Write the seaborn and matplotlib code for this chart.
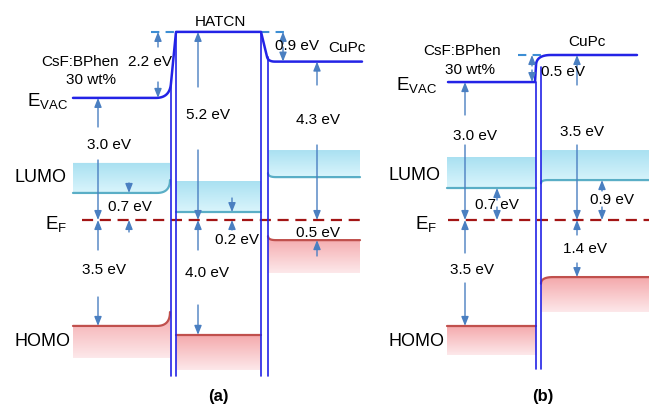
import numpy as np
import matplotlib
matplotlib.use("Agg")
import matplotlib.pyplot as plt
from matplotlib.colors import LinearSegmentedColormap
import seaborn as sns

# schematic energy levels (eV, relative to E_F = 0)
layers_a = ["CsF:BPhen", "HATCN", "CuPc"]
vac_a = [3.7, 5.7, 4.8]
lumo_a = [0.82, 0.24, 1.30]
lumo_top_a = [1.73, 1.18, 2.12]
homo_a = [-3.21, -3.48, -0.61]
homo_bot_a = [-4.18, -4.55, -1.61]

layers_b = ["CsF:BPhen", "CuPc"]
vac_b = [4.18, 5.0]
lumo_b = [0.97, 1.21]
lumo_top_b = [1.91, 2.12]
homo_b = [-3.21, -1.73]
homo_bot_b = [-4.09, -2.79]

# labels of the gaps
gaps_a = ["2.2 eV", "0.9 eV", "5.2 eV", "4.3 eV", "3.0 eV", "0.7 eV", "0.2 eV", "0.5 eV", "3.5 eV", "4.0 eV"]
gaps_b = ["0.5 eV", "3.0 eV", "3.5 eV", "0.7 eV", "0.9 eV", "1.4 eV", "3.5 eV"]

PX = 33.0
EF_PY = 220.0
def ev(py):
    # picture row -> energy scale
    return (EF_PY - py) / PX

sns.set_theme(style="white")
plt.rcParams['font.family'] = ['Liberation Sans', 'DejaVu Sans']
plt.rcParams['mathtext.fontset'] = 'custom'
plt.rcParams['mathtext.rm'] = 'Liberation Sans'

fig = plt.figure(figsize=(6.49, 4.07), dpi=100)
ax = fig.add_axes([0, 0, 1, 1])
ax.set_xlim(0, 649)
ax.set_ylim(ev(407), ev(0))
ax.set_axis_off()

BLUE = "#2323e6"
ARROW = "#4a7fc1"
lumo_cmap = LinearSegmentedColormap.from_list("lumo", ["#a8e0f1", "#daf5fc"])
homo_cmap = LinearSegmentedColormap.from_list("homo", ["#fde8ea", "#f4a8ab"])

def bez(p0, c, p1, n=15):
    t = np.linspace(0, 1, n)[:, None]
    pts = (1 - t) ** 2 * np.array(p0) + 2 * t * (1 - t) * np.array(c) + t ** 2 * np.array(p1)
    return pts[:, 0], pts[:, 1]

def band(xs, edge, other, cmap, edge_color):
    lo = np.minimum(edge, other)
    hi = np.maximum(edge, other)
    poly = ax.fill_between(xs, lo, hi, facecolor="none", edgecolor="none")
    grad = np.linspace(0, 1, 100).reshape(-1, 1)
    im = ax.imshow(grad, extent=[xs.min(), xs.max(), lo.min(), hi.max()], origin="lower",
                   cmap=cmap, aspect="auto", zorder=1)
    im.set_clip_path(poly.get_paths()[0], transform=ax.transData)
    ax.plot(xs, edge, color=edge_color, lw=1.6, zorder=2)

def flat_then_up(x0, x1, y, rise, xb):
    # level ending with a band bend close to the interface
    bx, by = bez((xb, y), (x1, y), (x1, y + rise))
    return np.r_[x0, bx], np.r_[y, by]

def down_then_flat(x0, x1, y, drop, xb):
    bx, by = bez((x0, y + drop), (x0, y), (xb, y))
    return np.r_[bx, x1], np.r_[by, y]

LUMO_EDGE = "#5aaec6"
HOMO_EDGE = "#c0504d"

# ---------- panel (a) ----------
x, e = flat_then_up(73, 170, lumo_a[0], 0.39, 157)
band(x, e, np.full_like(e, lumo_top_a[0]), lumo_cmap.reversed(), LUMO_EDGE)
x, e = flat_then_up(73, 170, homo_a[0], 0.42, 157)
band(x, e, np.full_like(e, homo_bot_a[0]), homo_cmap, HOMO_EDGE)
x = np.array([176.0, 261.0])
band(x, np.full(2, lumo_a[1]), np.full(2, lumo_top_a[1]), lumo_cmap.reversed(), LUMO_EDGE)
band(x, np.full(2, homo_a[1]), np.full(2, homo_bot_a[1]), homo_cmap, HOMO_EDGE)
x, e = down_then_flat(268, 360, lumo_a[2], 0.12, 276)
band(x, e, np.full_like(e, lumo_top_a[2]), lumo_cmap.reversed(), LUMO_EDGE)
x, e = down_then_flat(268, 360, homo_a[2], 0.12, 276)
band(x, e, np.full_like(e, homo_bot_a[2]), homo_cmap, HOMO_EDGE)

# vacuum level (a)
bx1, by1 = bez((156, vac_a[0]), (170, vac_a[0]), (171, vac_a[0] + 0.45))
bx2, by2 = bez((267, vac_a[2] + 0.15), (268, vac_a[2]), (275, vac_a[2]))
vx = np.r_[73, bx1, 176, 261, bx2, 362]
vy = np.r_[vac_a[0], by1, vac_a[1], vac_a[1], by2, vac_a[2]]
sns.lineplot(x=vx, y=vy, sort=False, estimator=None, color=BLUE, lw=1.8, ax=ax, zorder=4)

# interface double lines (a)
bottom_a = ev(376)
for xl, top in [(171, vac_a[0] + 0.45), (176, vac_a[1]), (261, vac_a[1]), (268, vac_a[2] + 0.15)]:
    ax.plot([xl, xl], [top, bottom_a], color=BLUE, lw=1.2, zorder=4)

# dashed reference at HATCN vacuum level
for xs in [(151, 176), (261, 289)]:
    ax.plot(xs, [vac_a[1]] * 2, color="#3d8ed4", lw=1.5, dashes=(4, 3), zorder=3)

# ---------- panel (b) ----------
x = np.array([447.0, 536.0])
band(x, np.full(2, lumo_b[0]), np.full(2, lumo_top_b[0]), lumo_cmap.reversed(), LUMO_EDGE)
band(x, np.full(2, homo_b[0]), np.full(2, homo_bot_b[0]), homo_cmap, HOMO_EDGE)
x, e = down_then_flat(541, 649, lumo_b[1], -0.1, 548)
band(x, e, np.full_like(e, lumo_top_b[1]), lumo_cmap.reversed(), LUMO_EDGE)
x, e = down_then_flat(541, 649, homo_b[1], -0.2, 553)
band(x, e, np.full_like(e, homo_bot_b[1]), homo_cmap, HOMO_EDGE)

bx, by = bez((536, vac_b[0] + 0.5), (536, vac_b[1]), (551, vac_b[1]))
vx = np.r_[448, 535, bx, 637]
vy = np.r_[vac_b[0], vac_b[0], by, vac_b[1]]
sns.lineplot(x=vx, y=vy, sort=False, estimator=None, color=BLUE, lw=1.8, ax=ax, zorder=4)

bottom_b = ev(369)
ax.plot([536, 536], [vac_b[0], bottom_b], color=BLUE, lw=1.2, zorder=4)
ax.plot([541, 541], [vac_b[1] - 0.35, bottom_b], color=BLUE, lw=1.2, zorder=4)
ax.plot([518, 545], [vac_b[1]] * 2, color="#3d8ed4", lw=1.5, dashes=(4, 3), zorder=3)

# Fermi level
for xs in [(82, 362), (448, 649)]:
    ax.plot(xs, [0, 0], color="#a31515", lw=1.6, dashes=(5, 3), zorder=3)

# ---------- arrows ----------
def arr(xp, tail_py, head):
    ax.annotate("", xy=(xp, head), xytext=(xp, ev(tail_py)),
                arrowprops=dict(arrowstyle="-|>,head_length=0.45,head_width=0.18",
                                color=ARROW, lw=1.0, shrinkA=0, shrinkB=0), zorder=5)

# (a)
arr(98, 127, vac_a[0]); arr(98, 160, 0); arr(98, 250, 0); arr(98, 297, homo_a[0])
arr(129, 183, lumo_a[0]); arr(129, 232, 0)
arr(158, 47, vac_a[1]); arr(158, 82, vac_a[0])
arr(198, 87, vac_a[1]); arr(198, 150, 0); arr(198, 250, 0); arr(198, 305, homo_a[1])
arr(232, 198, lumo_a[1]); arr(232, 230, 0)
arr(283, 44, vac_a[1]); arr(283, 47, vac_a[2])
arr(317, 85, vac_a[2]); arr(317, 145, 0); arr(317, 256, homo_a[2])
# (b)
arr(465, 115, vac_b[0]); arr(465, 145, 0); arr(465, 253, 0); arr(465, 283, homo_b[0])
arr(497, 200, lumo_b[0]); arr(497, 207, 0)
arr(532, 66, vac_b[1]); arr(532, 70, vac_b[0])
arr(577, 85, vac_b[1]); arr(577, 145, 0); arr(577, 235, 0); arr(577, 263, homo_b[1])
arr(602, 191, lumo_b[1]); arr(602, 207, 0)

# ---------- text ----------
def t(xp, py, s, size=11, **kw):
    ax.text(xp, ev(py), s, fontsize=size, ha=kw.pop("ha", "center"), va=kw.pop("va", "center"),
            color="black", zorder=6, **kw)

# (a)
t(68, 101, r"$\mathregular{E_{VAC}}$", 13.5, ha="right")
t(67, 224, r"$\mathregular{E_F}$", 13.5, ha="right")
t(40, 178, "LUMO", 13)
t(42, 342, "HOMO", 13)
t(80, 62, "CsF:BPhen"); t(91, 80, "30 wt%")
t(220, 22, layers_a[1]); t(347, 48, layers_a[2])
for (xp, py), s in zip([(150, 62), (297, 46), (208, 115), (318, 120), (109, 145),
                        (130, 207), (237, 240), (318, 233), (104, 270), (207, 273)], gaps_a):
    t(xp, py, s)
t(218, 397, "(a)", 12, fontweight="bold")

# (b)
t(437, 85, r"$\mathregular{E_{VAC}}$", 13.5, ha="right")
t(437, 224, r"$\mathregular{E_F}$", 13.5, ha="right")
t(414, 176, "LUMO", 13)
t(416, 342, "HOMO", 13)
t(462, 51, "CsF:BPhen"); t(470, 70, "30 wt%")
t(587, 42, layers_b[1])
for (xp, py), s in zip([(563, 72), (475, 136), (582, 132), (497, 205), (612, 200),
                        (585, 249), (472, 270)], gaps_b):
    t(xp, py, s)
t(543, 397, "(b)", 12, fontweight="bold")

fig.savefig("out.png", dpi=100)
